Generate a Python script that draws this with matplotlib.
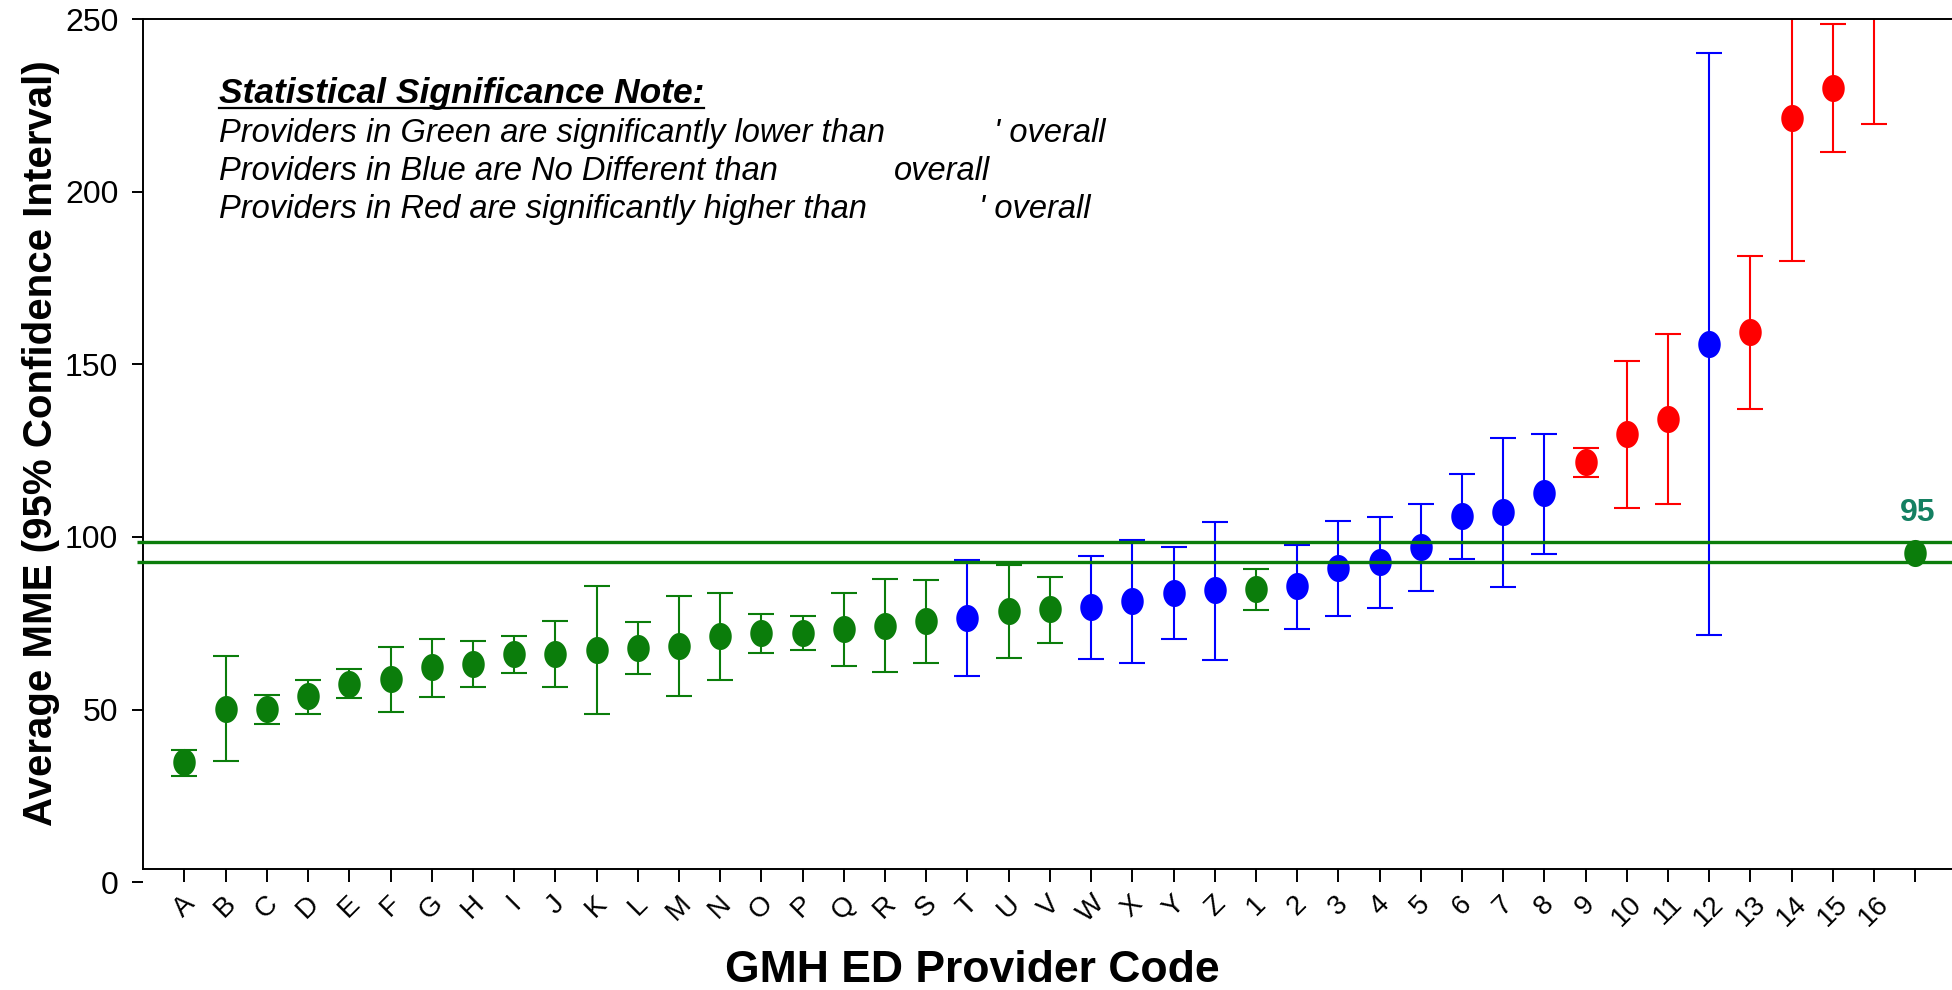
import numpy as np
import matplotlib
matplotlib.use("Agg")
import matplotlib.pyplot as plt
from matplotlib.path import Path
from matplotlib.lines import Line2D

plt.rcParams["font.family"] = ["Liberation Sans", "DejaVu Sans"]

# ---------------------------------------------------------------------------
# Data
# ---------------------------------------------------------------------------
providers = list("ABCDEFGHIJKLMNOPQRSTUVWXYZ") + [str(i) for i in range(1, 17)] + [""]

mme_mean = [34.7, 50.1, 50.2, 53.9, 57.5, 58.9, 62.3, 63.2, 66.0, 66.2, 67.4, 67.9,
            68.5, 71.3, 72.1, 72.2, 73.4, 74.3, 75.7, 76.6, 78.5, 79.0, 79.7, 81.5,
            83.8, 84.5, 84.9, 85.9, 91.0, 92.8, 97.2, 106.1, 107.1, 112.8, 121.6,
            129.9, 134.3, 156.0, 159.4, 221.4, 230.1, 270.0, 95.3]
ci_low = [30.8, 35.0, 45.9, 48.8, 53.3, 49.4, 53.8, 56.5, 60.7, 56.5, 48.8, 60.2,
          53.9, 58.5, 66.3, 67.4, 62.5, 60.8, 63.6, 59.7, 65.0, 69.3, 64.8, 63.6,
          70.5, 64.5, 78.9, 73.4, 77.2, 79.5, 84.4, 93.6, 85.5, 95.2, 117.5,
          108.5, 109.6, 71.5, 137.0, 179.8, 211.4, 219.7, 92.8]
ci_high = [38.3, 65.5, 54.3, 58.6, 61.7, 68.1, 70.4, 70.0, 71.2, 75.6, 85.9, 75.5,
           82.9, 83.8, 77.6, 77.0, 83.8, 87.7, 87.5, 93.3, 91.8, 88.5, 94.4, 99.1,
           97.1, 104.2, 90.6, 97.7, 104.5, 105.8, 109.6, 118.2, 128.6, 129.7, 125.8,
           150.9, 158.8, 240.3, 181.5, 263.0, 248.5, 320.0, 98.5]
# L = significantly lower, N = no different, H = significantly higher
significance = list("LLLLLLLLLLLLLLLLLLLNLLNNNNLNNNNNNNHHHNHHHHL")

overall_mean = 95.3
overall_ci = (92.8, 98.5)

colores = {"L": "#0b7d0b", "N": "#0000ff", "H": "#ff0000"}

# ---------------------------------------------------------------------------
# Figure
# ---------------------------------------------------------------------------
fig = plt.figure(figsize=(19.52, 9.90), dpi=100)
ax = fig.add_axes([0.0734, 0.1088, 0.9266, 0.8720])

x = np.arange(len(providers))
mean = np.array(mme_mean)
lo = np.array(ci_low)
hi = np.array(ci_high)
sig = np.array(significance)

theta = np.linspace(0, 2 * np.pi, 64)
verts = np.column_stack([0.83 * np.cos(theta), np.sin(theta)])
verts = np.vstack([verts, verts[0]])
codes = [Path.MOVETO] + [Path.LINETO] * (len(verts) - 2) + [Path.CLOSEPOLY]
elipse = Path(verts, codes)

for k, c in colores.items():
    m = sig == k
    if k == "L":
        m[-1] = False  # overall point drawn separately
    ax.errorbar(x[m], mean[m], yerr=[mean[m] - lo[m], hi[m] - mean[m]],
                fmt="none", ecolor=c, elinewidth=1.5, capsize=9.5, capthick=1.5,
                zorder=2)
    ax.plot(x[m], mean[m], ls="none", marker=elipse, ms=19.5, mfc=c, mec=c,
            mew=0, zorder=2.5)

# overall value and its confidence band
ax.plot(x[-1], overall_mean, ls="none", marker=elipse, ms=19.5, mfc=colores["L"],
        mec=colores["L"], mew=0, zorder=2.5)
ax.hlines(overall_ci, -1.15, 43.5, colors="#0b7d0b", lw=2.4, zorder=3, clip_on=False)
ax.annotate(f"{overall_mean:.0f}", xy=(x[-1], overall_mean), xytext=(1.5, 29),
            textcoords="offset points", ha="center", va="center",
            fontsize=23, fontweight="bold", color="#148062")

ax.set_xlim(-1, 42.89)
ax.set_ylim(0, 250)
ax.set_yticks([0, 50, 100, 150, 200, 250])
ax.set_xticks(x)
ax.set_xticklabels(providers)

ax.spines["right"].set_visible(False)
ax.spines["bottom"].set_position(("data", 3.8))
ax.spines["left"].set_bounds(3.8, 250)
for s in ("left", "bottom", "top"):
    ax.spines[s].set_linewidth(1.4)
ax.tick_params(axis="y", length=8, width=1.4, pad=10, labelsize=23)
ax.tick_params(axis="x", length=9.4, width=1.4, pad=6, labelsize=20,
               labelrotation=45)
for t in ax.get_xticklabels():
    t.set_ha("center")

fig.text(41 / 1952, 1 - 443 / 990, "Average MME (95% Confidence Interval)",
         rotation=90, ha="center", va="center", fontsize=29, fontweight="bold")
fig.text(972 / 1952, 1 - 982 / 990, "GMH ED Provider Code",
         ha="center", va="baseline", fontsize=32, fontweight="bold")

# ---------------------------------------------------------------------------
# Significance note
# ---------------------------------------------------------------------------
def fx(px):
    return px / 1952


def fy(px):
    return 1 - px / 990


titulo = fig.text(fx(219), fy(103), "Statistical Significance Note:", ha="left",
                  va="baseline", fontsize=25.5, fontweight="bold", style="italic")
lineas = [("Providers in Green are significantly lower than", "' overall", 994),
          ("Providers in Blue are No Different than", "overall", 894),
          ("Providers in Red are significantly higher than", "' overall", 979)]
for i, (txt, cola, xcola) in enumerate(lineas):
    yb = fy(142 + 38 * i)
    fig.text(fx(219), yb, txt, ha="left", va="baseline", fontsize=23.5, style="italic")
    fig.text(fx(xcola), yb, cola, ha="left", va="baseline", fontsize=23.5, style="italic")

fig.canvas.draw()
bb = titulo.get_window_extent()
fig.add_artist(Line2D([bb.x0 / 1952, bb.x1 / 1952], [fy(108), fy(108)],
                      transform=fig.transFigure, color="black", lw=1.6))

fig.savefig("out.png", dpi=100, facecolor="white")
